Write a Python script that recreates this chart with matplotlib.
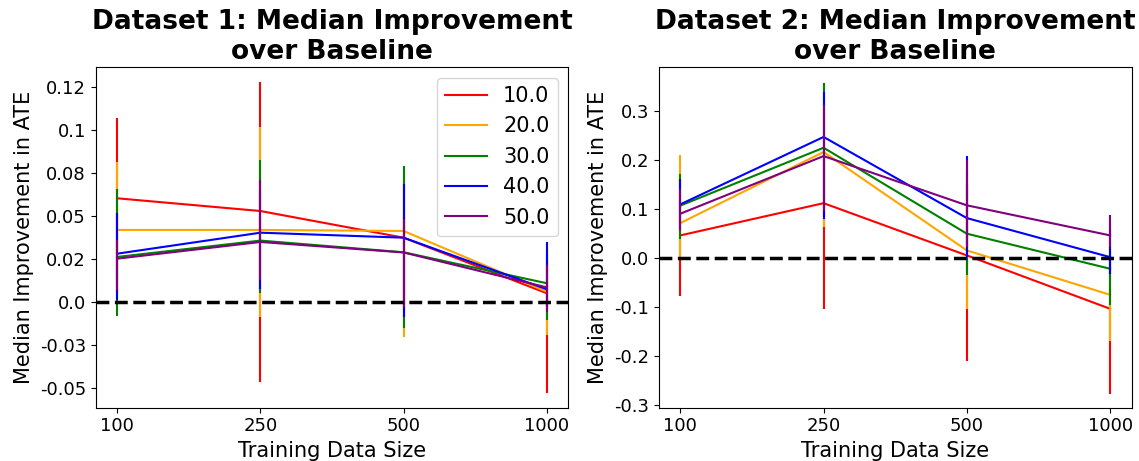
import matplotlib
matplotlib.use("Agg")
import matplotlib.pyplot as plt
import numpy as np

# Training data sizes (plotted as evenly spaced categories)
sizes = ["100", "250", "500", "1000"]
series_labels = ["10.0", "20.0", "30.0", "40.0", "50.0"]
colors = ["red", "orange", "green", "blue", "purple"]

# Dataset 1: median improvement and interval bounds per series
d1_median = [
    [0.0603, 0.0529, 0.0374, 0.0051],
    [0.0419, 0.0419, 0.0413, 0.0060],
    [0.0262, 0.0357, 0.0289, 0.0109],
    [0.0281, 0.0403, 0.0374, 0.0074],
    [0.0252, 0.0349, 0.0288, 0.0085],
]
d1_lower = [
    [0.0120, -0.0463, -0.0050, -0.0531],
    [0.0040, -0.0085, -0.0201, -0.0192],
    [-0.0081, 0.0055, -0.0153, -0.0105],
    [0.0012, 0.0075, -0.0085, -0.0030],
    [0.0070, 0.0128, -0.0027, -0.0056],
]
d1_upper = [
    [0.1068, 0.1277, 0.0700, 0.0250],
    [0.0816, 0.1019, 0.0700, 0.0280],
    [0.0655, 0.0826, 0.0790, 0.0300],
    [0.0516, 0.0650, 0.0686, 0.0350],
    [0.0360, 0.0709, 0.0480, 0.0215],
]

# Dataset 2
d2_median = [
    [0.0463, 0.1120, 0.0055, -0.1033],
    [0.0714, 0.2164, 0.0157, -0.0748],
    [0.1070, 0.2250, 0.0498, -0.0217],
    [0.1096, 0.2470, 0.0816, 0.0020],
    [0.0905, 0.2080, 0.1076, 0.0463],
]
d2_lower = [
    [-0.0780, -0.1030, -0.2090, -0.2770],
    [0.0020, 0.0630, -0.1030, -0.1680],
    [0.0395, 0.0900, -0.0350, -0.0966],
    [0.0600, 0.0800, 0.0020, -0.0320],
    [0.0565, 0.0970, 0.0224, 0.0224],
]
d2_upper = [
    [0.1200, 0.2000, 0.1500, 0.0000],
    [0.2110, 0.3300, 0.1500, 0.0200],
    [0.1710, 0.3580, 0.1800, 0.0600],
    [0.1620, 0.3390, 0.2080, 0.0700],
    [0.1416, 0.3116, 0.2010, 0.0870],
]

d1_yticks = [0.125, 0.1, 0.075, 0.05, 0.025, 0.0, -0.025, -0.05]
d1_yticklabels = ["0.12", "0.1", "0.08", "0.05", "0.02", "0.0", "-0.03", "-0.05"]
d2_yticks = [0.3, 0.2, 0.1, 0.0, -0.1, -0.2, -0.3]
d2_yticklabels = ["0.3", "0.2", "0.1", "0.0", "-0.1", "-0.2", "-0.3"]

titles = ["Dataset 1: Median Improvement\nover Baseline",
          "Dataset 2: Median Improvement\nover Baseline"]

fig = plt.figure(figsize=(11.39, 4.61), dpi=100)
W, H = 1139, 461
ax1 = fig.add_axes([95.7 / W, 1 - 407.7 / H, (568.3 - 95.7) / W, (407.7 - 67.3) / H])
ax2 = fig.add_axes([658.7 / W, 1 - 407.7 / H, (1131.7 - 658.7) / W, (407.7 - 67.3) / H])

x = np.arange(len(sizes))

def draw_panel(ax, med, lo, hi, title, yticks, yticklabels, ylim, legend):
    for i in range(len(series_labels)):
        ax.plot(x, med[i], color=colors[i], lw=1.5, label=series_labels[i])
        ax.vlines(x, lo[i], hi[i], color=colors[i], lw=1.5)
    ax.axhline(0, color="black", ls="--", lw=2.5)
    ax.set_xticks(x)
    ax.set_xticklabels(sizes, fontsize=13)
    ax.set_yticks(yticks)
    ax.set_yticklabels(yticklabels, fontsize=13)
    ax.set_xlim(-0.151, 3.151)
    ax.set_ylim(*ylim)
    ax.set_xlabel("Training Data Size", fontsize=15)
    ax.set_ylabel("Median Improvement in ATE", fontsize=15)
    ax.set_title(title, fontsize=19, fontweight="bold")
    if legend:
        ax.legend(loc="upper right", fontsize=15)

draw_panel(ax1, d1_median, d1_lower, d1_upper, titles[0],
           d1_yticks, d1_yticklabels, (-0.0615, 0.1365), True)
draw_panel(ax2, d2_median, d2_lower, d2_upper, titles[1],
           d2_yticks, d2_yticklabels, (-0.305, 0.389), False)

fig.savefig("out.png", dpi=100)
